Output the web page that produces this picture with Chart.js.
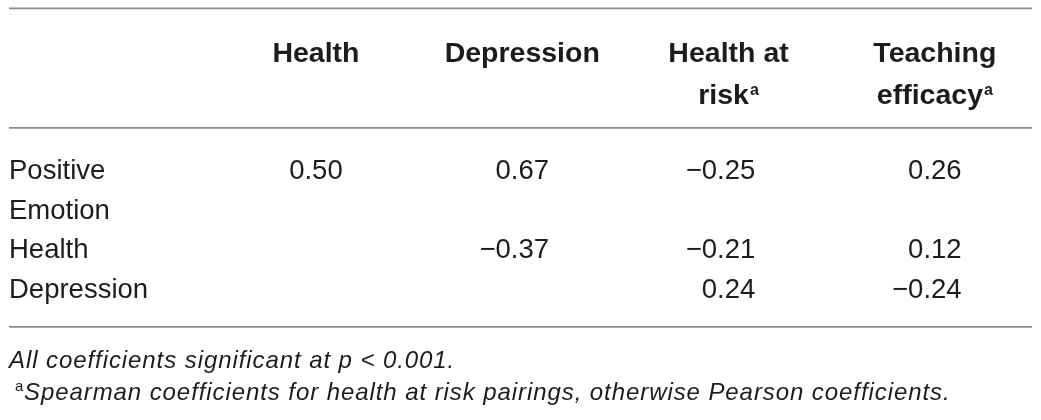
<!DOCTYPE html>
<html>
<head>
<meta charset="utf-8">
<script src="https://cdn.jsdelivr.net/npm/chart.js@4.4.1/dist/chart.umd.min.js"></script>
<style>
  html, body { margin: 0; background: #fff; }
  #wrap { width: 1041px; height: 420px; }
</style>
</head>
<body>
<div id="wrap"><canvas id="corr-table"></canvas></div>
<script>
// table content
const columns = ['Health', 'Depression', 'Health at risk', 'Teaching efficacy'];
const headerLines = [['Health'], ['Depression'], ['Health at', 'risk'], ['Teaching', 'efficacy']];
const headerNotes = [false, false, true, true];
const rowLabels = [['Positive', 'Emotion'], ['Health'], ['Depression']];
const positiveEmotion = [0.50, 0.67, -0.25, 0.26];
const health = [null, -0.37, -0.21, 0.12];
const depression = [null, null, 0.24, -0.24];
const rowValues = [positiveEmotion, health, depression];
const footnotes = ['All coefficients significant at p < 0.001.',
  'Spearman coefficients for health at risk pairings, otherwise Pearson coefficients.'];

// layout, in text-line units on the y axis
const headerLinePos = [1.06, 2.1];
const firstBodyLine = 4;
const ruleLines = [-0.3, 2.71, 7.73];
const footnoteLines = [8.76, 9.57];

const textColor = '#1c1c1c';
const ruleColor = '#8c8c8c';
const headerFont = 'bold 28.5px "Liberation Sans", Arial, sans-serif';
const headerSupFont = 'bold 16px "Liberation Sans", Arial, sans-serif';
const bodyFont = '27.5px "Liberation Sans", Arial, sans-serif';
const noteFont = 'italic 24px "Liberation Sans", Arial, sans-serif';
const noteSupFont = '15px "Liberation Sans", Arial, sans-serif';

const fmt = v => (v < 0 ? '\u2212' : '') + Math.abs(v).toFixed(2);

// row start lines follow from how many lines each label takes
const rowStarts = [];
rowLabels.reduce((line, lbl) => { rowStarts.push(line); return line + lbl.length; }, firstBodyLine);

const datasets = rowValues.map((vals, r) => ({
  label: rowLabels[r].join(' '),
  pointRadius: 0,
  data: vals
    .map((v, c) => v === null ? null : { x: columns[c], y: rowStarts[r], v: v })
    .filter(d => d !== null)
}));

const tablePlugin = {
  id: 'tableText',
  afterDatasetsDraw(chart) {
    const { ctx, chartArea, scales: { x, y } } = chart;
    const left = chartArea.left + 2.5;
    const right = chartArea.right - 6;
    ctx.save();
    // horizontal rules
    ctx.strokeStyle = ruleColor;
    ctx.lineWidth = 1.8;
    ruleLines.forEach(u => {
      const py = y.getPixelForValue(u);
      ctx.beginPath();
      ctx.moveTo(left, py);
      ctx.lineTo(right, py);
      ctx.stroke();
    });
    ctx.fillStyle = textColor;
    ctx.textBaseline = 'alphabetic';
    ctx.textAlign = 'left';
    // column headers, centred, with optional superscript a
    headerLines.forEach((lines, i) => {
      const cx = x.getPixelForValue(i + 1);
      lines.forEach((txt, j) => {
        const py = y.getPixelForValue(headerLinePos[j]);
        const note = headerNotes[i] && j === lines.length - 1;
        ctx.font = headerFont;
        const w = ctx.measureText(txt).width;
        let sw = 0;
        if (note) {
          ctx.font = headerSupFont;
          sw = ctx.measureText('a').width + 1;
        }
        const x0 = cx - (w + sw) / 2;
        ctx.font = headerFont;
        ctx.fillText(txt, x0, py);
        if (note) {
          ctx.font = headerSupFont;
          ctx.fillText('a', x0 + w + 1, py - 9);
        }
      });
    });
    // row labels
    ctx.font = bodyFont;
    rowLabels.forEach((lines, r) => {
      lines.forEach((txt, j) => {
        ctx.fillText(txt, left, y.getPixelForValue(rowStarts[r] + j));
      });
    });
    // cell values, placed at the dataset points, decimal aligned
    ctx.textAlign = 'right';
    const halfCell = ctx.measureText('0.00').width / 2;
    chart.data.datasets.forEach((ds, di) => {
      chart.getDatasetMeta(di).data.forEach((pt, k) => {
        ctx.fillText(fmt(ds.data[k].v), pt.x + halfCell, pt.y);
      });
    });
    // footnotes
    ctx.textAlign = 'left';
    ctx.font = noteFont;
    ctx.letterSpacing = '0.92px';
    ctx.fillText(footnotes[0], left, y.getPixelForValue(footnoteLines[0]));
    const fy = y.getPixelForValue(footnoteLines[1]);
    ctx.fillText(footnotes[1], left + 15, fy);
    ctx.letterSpacing = '0px';
    ctx.font = noteSupFont;
    ctx.fillText('a', left + 6, fy - 9);
    ctx.restore();
  }
};

new Chart(document.getElementById('corr-table'), {
  type: 'scatter',
  data: { datasets: datasets },
  options: {
    responsive: true,
    maintainAspectRatio: false,
    animation: false,
    events: [],
    layout: { padding: { left: 6.5, right: 3, top: 0, bottom: 0 } },
    plugins: { legend: { display: false }, tooltip: { enabled: false } },
    scales: {
      x: { type: 'category', labels: [''].concat(columns), offset: true, display: false },
      y: { type: 'linear', reverse: true, min: -0.512, max: 10.076, display: false }
    }
  },
  plugins: [tablePlugin]
});
</script>
</body>
</html>
